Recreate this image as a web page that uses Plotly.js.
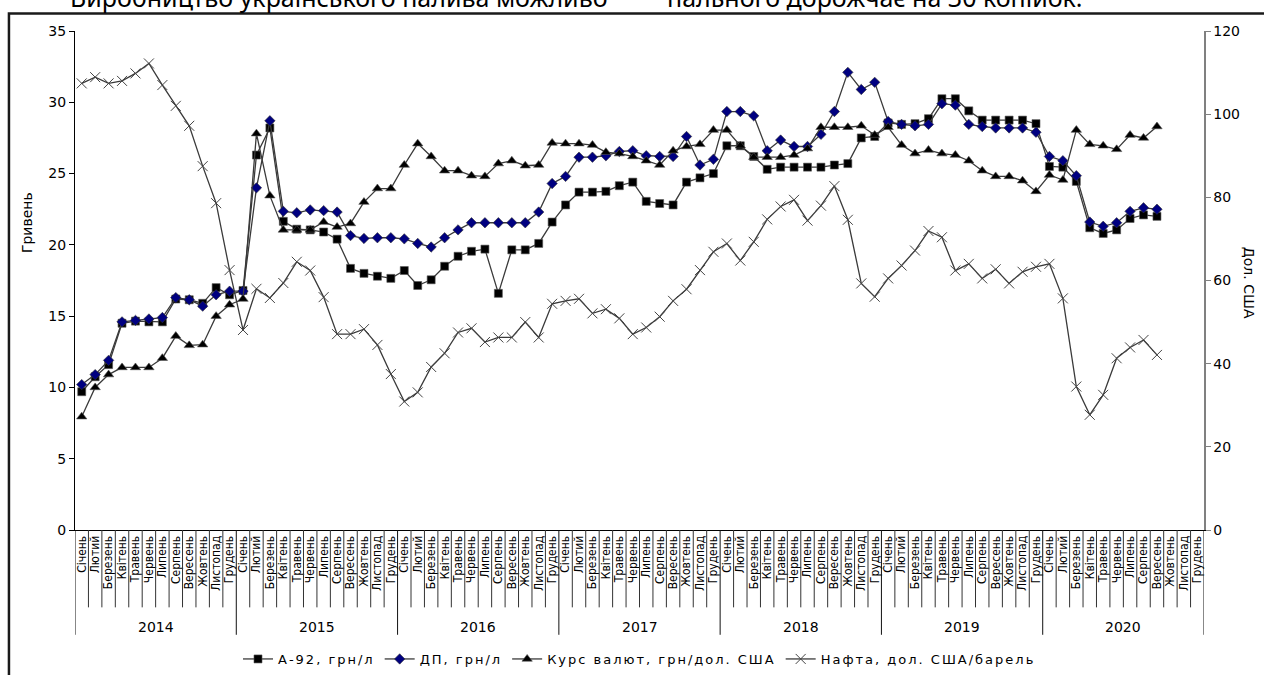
<!DOCTYPE html>
<html><head><meta charset="utf-8">
<script src="https://cdn.plot.ly/plotly-3.0.1.min.js"></script>
<style>html,body{margin:0;padding:0;background:#fff}#chart{width:1264px;height:675px}
.legendtext{letter-spacing:2px}</style>
</head><body><div id="chart"></div>
<script>
const years = ['2014','2015','2016','2017','2018','2019','2020'];
const months = ['Січень','Лютий','Березень','Квітень','Травень','Червень','Липень','Серпень','Вересень','Жовтень','Листопад','Грудень'];
const seriesNames = ['А-92, грн/л','ДП, грн/л','Курс валют, грн/дол. США','Нафта, дол. США/барель'];

const a92 = [9.7,10.75,11.6,14.5,14.65,14.6,14.6,16.2,16.15,15.9,17.0,16.5,
  16.8,26.3,28.2,21.65,21.1,21.05,20.9,20.4,18.35,18.0,17.8,17.65,
  18.2,17.15,17.55,18.5,19.2,19.55,19.7,16.6,19.65,19.65,20.1,21.6,
  22.8,23.7,23.7,23.75,24.15,24.4,23.05,22.9,22.8,24.4,24.7,25.0,
  26.95,26.95,26.2,25.3,25.45,25.45,25.45,25.45,25.6,25.7,27.5,27.6,
  28.55,28.45,28.5,28.85,30.25,30.25,29.4,28.75,28.75,28.75,28.75,28.5,
  25.5,25.45,24.45,21.2,20.8,21.05,21.85,22.1,22.0];
const dp = [10.2,10.9,11.9,14.6,14.7,14.8,14.9,16.3,16.15,15.7,16.5,16.75,
  16.75,24.0,28.7,22.35,22.25,22.45,22.4,22.3,20.65,20.45,20.5,20.5,
  20.42,20.1,19.85,20.5,21.05,21.55,21.55,21.55,21.55,21.55,22.3,24.3,
  24.8,26.15,26.15,26.25,26.55,26.6,26.25,26.2,26.2,27.6,25.6,26.0,
  29.35,29.35,29.05,26.6,27.35,26.9,26.9,27.75,29.35,32.1,30.9,31.4,
  28.65,28.45,28.35,28.45,29.9,29.8,28.45,28.3,28.2,28.2,28.2,27.9,
  26.2,25.9,24.85,21.6,21.3,21.55,22.35,22.6,22.5];
const kurs = [7.95,10.0,10.9,11.4,11.4,11.4,12.05,13.6,12.95,13.0,15.0,15.8,
  16.2,27.8,23.45,21.05,21.05,21.05,21.6,21.25,21.5,23.0,23.95,23.95,
  25.6,27.1,26.2,25.2,25.2,24.85,24.8,25.7,25.9,25.55,25.6,27.15,
  27.1,27.1,27.0,26.5,26.4,26.2,25.9,25.6,26.6,26.9,27.05,28.05,
  28.05,26.95,26.15,26.15,26.15,26.3,26.75,28.25,28.25,28.25,28.35,27.7,
  28.25,27.0,26.4,26.65,26.4,26.3,25.9,25.2,24.8,24.8,24.5,23.75,
  24.9,24.55,28.05,27.05,26.95,26.7,27.7,27.5,28.3];
const nafta = [107.4,108.9,107.4,108.0,109.8,112.2,107.0,102.0,97.2,87.5,78.6,62.5,
  48.1,58.0,55.8,59.4,64.5,62.4,56.0,47.1,47.1,48.3,44.5,37.5,
  30.9,33.1,39.2,42.5,47.5,48.5,45.2,46.3,46.3,50.0,46.3,54.4,
  55.1,55.6,52.1,53.1,50.9,47.1,48.7,51.3,55.1,57.9,62.5,66.9,
  68.9,64.8,69.3,74.7,77.8,79.4,74.4,78.0,82.7,74.6,59.3,56.1,
  60.5,63.6,67.2,71.9,70.4,62.4,64.0,60.5,62.7,59.3,62.1,63.3,
  64.0,55.7,34.5,27.7,32.5,41.3,43.9,45.7,42.1];

const FONT = 'DejaVu Sans, Verdana, sans-serif';
const FONT_C = 'DejaVu Sans Condensed, DejaVu Sans, sans-serif';
const categories = [];
const tickLabels = [];
years.forEach(y => months.forEach(m => { categories.push(m + ' ' + y); tickLabels.push(m); }));
const nCat = categories.length;

function xs(arr){ return categories.slice(0, arr.length); }

const lineCol = '#3a3a3a';
const traces = [
  {x: xs(a92), y: a92, name: seriesNames[0], type:'scatter', mode:'lines+markers',
   line:{color:lineCol, width:1.3}, marker:{symbol:'square', size:8, color:'#000', line:{color:'#555', width:0.6}}},
  {x: xs(dp), y: dp, name: seriesNames[1], type:'scatter', mode:'lines+markers',
   line:{color:lineCol, width:1.3}, marker:{symbol:'diamond', size:8, color:'#000080', line:{color:'#333', width:0.6}}},
  {x: xs(kurs), y: kurs, name: seriesNames[2], type:'scatter', mode:'lines+markers',
   line:{color:lineCol, width:1.3}, marker:{symbol:'triangle-up', size:9, color:'#000', line:{color:'#555', width:0.6}}},
  {x: xs(nafta), y: nafta, name: seriesNames[3], type:'scatter', mode:'lines+markers', yaxis:'y2',
   line:{color:lineCol, width:1.3}, marker:{symbol:'x-thin-open', size:10, color:'#444', line:{color:'#444', width:1}}}
];

const shapes = [];
for (let k = 0; k <= nCat; k++) {
  const isYear = k % 12 === 0;
  shapes.push({type:'line', xref:'x', yref:'paper', x0:k-0.5, x1:k-0.5, y0:0, y1: isYear ? -0.21 : -0.155,
    line:{color: isYear ? '#111' : '#333', width:1}});
}
// outer frame
shapes.push({type:'rect', xref:'paper', yref:'paper', x0:-0.0585, x1:1.07, y0:-0.35, y1:1.035,
  line:{color:'#1a1a1a', width:2.5}, fillcolor:'rgba(0,0,0,0)'});

const annotations = years.map((y, k) => ({
  text: y, xref:'x', yref:'paper', x: k*12 + 5.5, y: -0.194, showarrow:false,
  font:{family:FONT, size:14, color:'#000'}, xanchor:'center', yanchor:'middle'
}));
annotations.push({text:'Гривень', xref:'paper', yref:'paper', x:-0.043, y:0.616, textangle:-90,
  showarrow:false, font:{family:FONT, size:14, color:'#000'}, xanchor:'center', yanchor:'middle'});
annotations.push({text:'Дол. США', xref:'paper', yref:'paper', x:1.04, y:0.495, textangle:90,
  showarrow:false, font:{family:FONT, size:14, color:'#000'}, xanchor:'center', yanchor:'middle'});
annotations.push({text:'Виробництво українського палива можливо', xref:'paper', yref:'paper', x:0.4739, y:1.069,
  showarrow:false, font:{family:'Noto Sans, sans-serif', size:25, color:'#000'}, xanchor:'right', yanchor:'middle'});
annotations.push({text:'пального дорожчає на 30 копійок.', xref:'paper', yref:'paper', x:0.5226, y:1.069,
  showarrow:false, font:{family:'Noto Sans, sans-serif', size:25, color:'#000'}, xanchor:'left', yanchor:'middle'});

const layout = {
  width:1264, height:675,
  margin:{l:75, r:60, t:31, b:145, pad:0, autoexpand:false},
  paper_bgcolor:'#fff', plot_bgcolor:'#fff',
  font:{family:FONT, color:'#000'},
  showlegend:true,
  legend:{orientation:'h', x:0.5, xanchor:'center', y:-0.2585, yanchor:'middle',
    font:{family:FONT, size:13, color:'#000'}, bgcolor:'rgba(0,0,0,0)'},
  xaxis:{type:'category', categoryorder:'array', categoryarray:categories, range:[-0.5, nCat-0.5],
    tickmode:'array', tickvals:categories, ticktext:tickLabels, tickangle:-90, automargin:false,
    tickfont:{family:FONT_C, size:12, color:'#000'}, ticks:'', showline:true, linecolor:'#000', linewidth:1,
    showgrid:false, zeroline:false, fixedrange:true},
  yaxis:{range:[0,35], dtick:5, tick0:0, ticks:'outside', ticklen:5, tickcolor:'#000', showline:true, automargin:false,
    linecolor:'#000', linewidth:1, showgrid:false, zeroline:false, tickfont:{family:FONT, size:14, color:'#000'}},
  yaxis2:{range:[0,120], dtick:20, tick0:0, overlaying:'y', side:'right', ticks:'outside', ticklen:5, automargin:false,
    tickcolor:'#808080', showline:true, linecolor:'#808080', linewidth:1.5, showgrid:false, zeroline:false,
    tickfont:{family:FONT, size:14, color:'#000'}},
  shapes: shapes,
  annotations: annotations
};

Plotly.newPlot('chart', traces, layout, {staticPlot:true, displayModeBar:false});
</script>
</body></html>
